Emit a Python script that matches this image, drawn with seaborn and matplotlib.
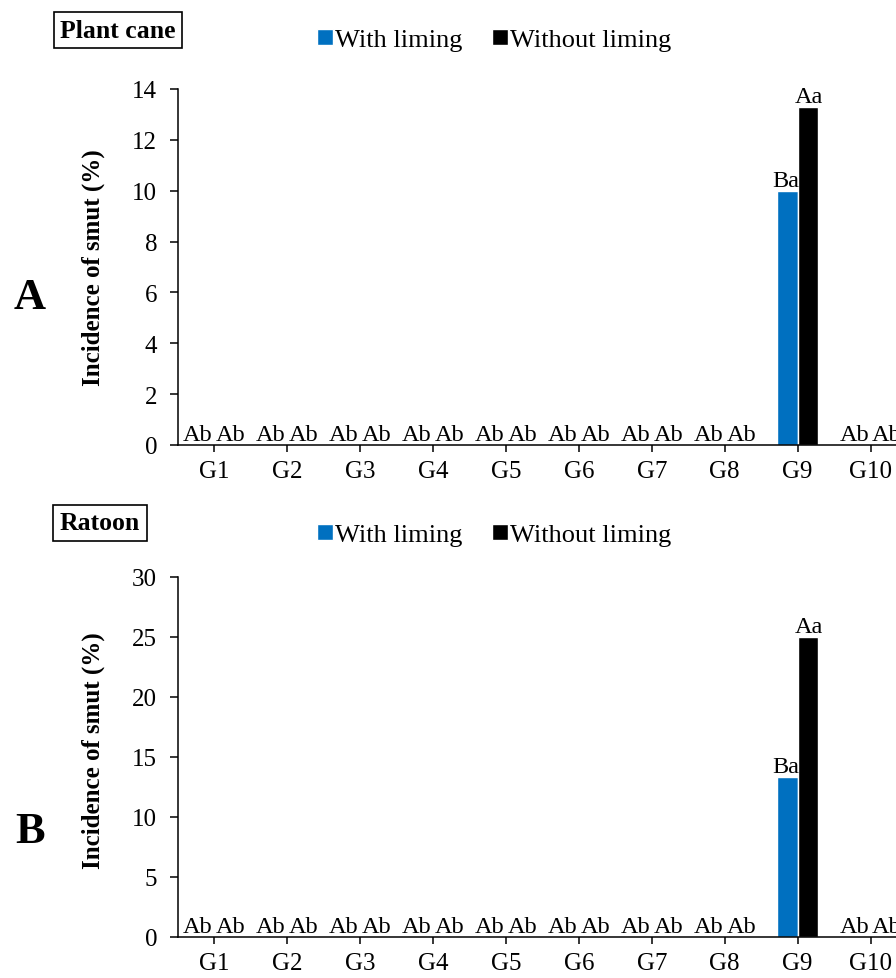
import pandas as pd
import matplotlib
matplotlib.use("Agg")
import matplotlib.pyplot as plt
import seaborn as sns

# Datos
genotipos = ['G1', 'G2', 'G3', 'G4', 'G5', 'G6', 'G7', 'G8', 'G9', 'G10']
tratamientos = ['With liming', 'Without liming']

# Planta (plant cane)
con_cal_a = [0, 0, 0, 0, 0, 0, 0, 0, 10.0, 0]
sin_cal_a = [0, 0, 0, 0, 0, 0, 0, 0, 13.3, 0]
letras_con_a = ['Ab', 'Ab', 'Ab', 'Ab', 'Ab', 'Ab', 'Ab', 'Ab', 'Ba', 'Ab']
letras_sin_a = ['Ab', 'Ab', 'Ab', 'Ab', 'Ab', 'Ab', 'Ab', 'Ab', 'Aa', 'Ab']

# Soca (ratoon)
con_cal_b = [0, 0, 0, 0, 0, 0, 0, 0, 13.3, 0]
sin_cal_b = [0, 0, 0, 0, 0, 0, 0, 0, 25.0, 0]
letras_con_b = ['Ab', 'Ab', 'Ab', 'Ab', 'Ab', 'Ab', 'Ab', 'Ab', 'Ba', 'Ab']
letras_sin_b = ['Ab', 'Ab', 'Ab', 'Ab', 'Ab', 'Ab', 'Ab', 'Ab', 'Aa', 'Ab']

colores = {'With liming': '#0070C0', 'Without liming': '#000000'}

sns.set_style("white")
plt.rcParams['font.family'] = ['Liberation Serif', 'DejaVu Serif']
plt.rcParams['text.color'] = 'black'
plt.rcParams['axes.labelcolor'] = 'black'
plt.rcParams['xtick.color'] = 'black'
plt.rcParams['ytick.color'] = 'black'

fig = plt.figure(figsize=(8.96, 9.79), dpi=100)
W, H = 896.0, 979.0


def panel(rect, con, sin, letras_con, letras_sin, ymax, paso, caja, letra,
          caja_y, letra_y, leyenda_y, ylab_y):
    ax = fig.add_axes(rect)
    df = pd.DataFrame({
        'Genotype': genotipos * 2,
        'Treatment': [tratamientos[0]] * len(genotipos) + [tratamientos[1]] * len(genotipos),
        'Incidence': con + sin,
    })
    sns.barplot(data=df, x='Genotype', y='Incidence', hue='Treatment',
                hue_order=tratamientos, palette=colores, width=0.56,
                saturation=1, errorbar=None, ax=ax)
    ax.set_xlim(-0.5, len(genotipos) - 0.5)
    ax.set_ylim(0, ymax)
    ax.set_yticks(range(0, ymax + 1, paso))
    ax.set_xlabel('')
    ax.set_ylabel('Incidence of smut (%)', fontsize=18, fontweight='bold')
    ax.yaxis.set_label_coords(-73 / 729, ylab_y)
    for s in ['top', 'right']:
        ax.spines[s].set_visible(False)
    for s in ['left', 'bottom']:
        ax.spines[s].set_color('black')
        ax.spines[s].set_linewidth(1.1)
    ax.tick_params(axis='y', direction='out', length=6, width=1.1, pad=9,
                   labelsize=18, left=True, color='black')
    ax.tick_params(axis='x', direction='out', length=5, width=1.1, pad=6,
                   labelsize=18, bottom=True, color='black')

    # letras de significancia
    for i in range(len(genotipos)):
        for k, (vals, letras) in enumerate([(con, letras_con), (sin, letras_sin)]):
            signo = -1 if k == 0 else 1
            dx = 0.16 if vals[i] > 0 else 0.225
            ax.annotate(letras[i], (i + signo * dx, vals[i]), xytext=(0, 0),
                        textcoords='offset points', ha='center', va='bottom',
                        fontsize=17.5)

    # leyenda
    handles, labels = ax.get_legend_handles_labels()
    ax.legend(handles, labels, loc='center left', bbox_to_anchor=(317 / W, leyenda_y),
              bbox_transform=fig.transFigure, ncol=2, frameon=False,
              fontsize=19, handlelength=0.6, handleheight=0.6, borderpad=0,
              borderaxespad=0, handletextpad=0.1, columnspacing=1.1)

    fig.text(caja[0], caja_y, caja[1], fontsize=18.5, fontweight='bold',
             ha='center', va='center',
             bbox=dict(boxstyle='square,pad=0.25', fc='white', ec='black', lw=1.2))
    fig.text(30 / W, letra_y, letra, fontsize=32, fontweight='bold',
             ha='center', va='center')
    return ax


panel([178 / W, 1 - 446 / H, 729 / W, 356 / H], con_cal_a, sin_cal_a,
      letras_con_a, letras_sin_a, 14, 2, (118 / W, 'Plant cane'), 'A',
      1 - 31 / H, 1 - 298 / H, 1 - 41 / H, 0.5)
panel([178 / W, 1 - 938 / H, 729 / W, 360 / H], con_cal_b, sin_cal_b,
      letras_con_b, letras_sin_b, 30, 5, (100 / W, 'Ratoon'), 'B',
      1 - 524 / H, 1 - 832 / H, 1 - 536 / H, 0.52)

fig.savefig('out.png', dpi=100)
